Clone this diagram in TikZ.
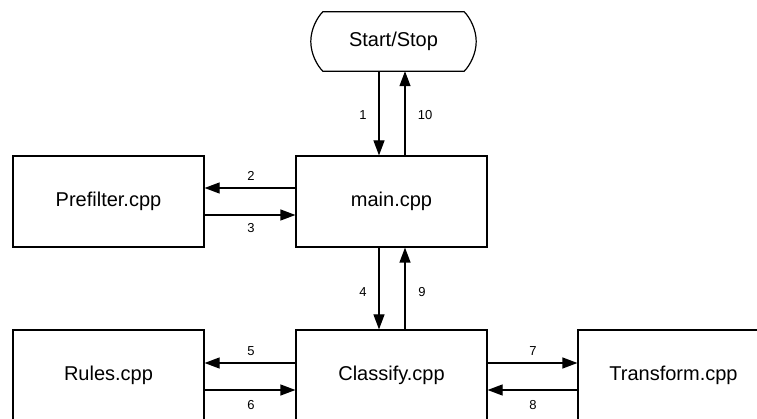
\documentclass[tikz,border=0pt]{standalone}
\usepackage{fontspec}
\setmainfont{Liberation Sans}
\usetikzlibrary{arrows.meta,calc}
\tikzset{
  module/.style={draw=black, line width=1.2pt, minimum width=191pt, minimum height=91pt,
    inner sep=0pt, font=\fontsize{20}{22}\selectfont},
  flow/.style={line width=1.2pt, -{Triangle[length=15pt,width=11pt]}},
  tag/.style={font=\fontsize{13}{15}\selectfont, inner sep=0pt},
}
\begin{document}
\begin{tikzpicture}[x=1pt,y=-1pt]
\useasboundingbox (0,0) rectangle (757,419);
\fill[white] (0,0) rectangle (757,419);
\clip (0,0) rectangle (757,419);

% terminal
\node[minimum width=165pt, minimum height=59pt, inner sep=0pt,
      font=\fontsize{20}{22}\selectfont] (start) at (393.5,41.5) {Start/Stop};
\draw[line width=1.2pt]
  ($(start.north west)+(12,0)$) -- ($(start.north east)+(-12,0)$)
  .. controls +(6,6) and +(0,-12) .. (start.east)
  .. controls +(0,12) and +(6,-6) .. ($(start.south east)+(-12,0)$)
  -- ($(start.south west)+(12,0)$)
  .. controls +(-6,-6) and +(0,12) .. (start.west)
  .. controls +(0,-12) and +(-6,6) .. ($(start.north west)+(12,0)$) -- cycle;

% modules
\node[module] (main) at (391.5,201.5) {main.cpp};
\node[module] (pre) at (108.5,201.5) {Prefilter.cpp};
\node[module] (cls) at (391.5,375.5) {Classify.cpp};
\node[module] (rules) at (108.5,375.5) {Rules.cpp};
\node[module] (trans) at (673.5,375.5) {Transform.cpp};

% lanes for the paired connectors
\coordinate (down) at ($(main.center)+(-12.5,0)$);
\coordinate (up) at ($(main.center)+(13.5,0)$);
\coordinate (lhi) at ($(main.center)+(0,-13.5)$);
\coordinate (llo) at ($(main.center)+(0,13.5)$);
\coordinate (bhi) at ($(cls.center)+(0,-12.5)$);
\coordinate (blo) at ($(cls.center)+(0,14.5)$);

% calls and returns
\draw[flow] (down |- start.south) -- (down |- main.north);
\draw[flow] (up |- main.north) -- (up |- start.south);
\draw[flow] (main.west |- lhi) -- (pre.east |- lhi);
\draw[flow] (pre.east |- llo) -- (main.west |- llo);
\draw[flow] (down |- main.south) -- (down |- cls.north);
\draw[flow] (up |- cls.north) -- (up |- main.south);
\draw[flow] (cls.west |- bhi) -- (rules.east |- bhi);
\draw[flow] (rules.east |- blo) -- (cls.west |- blo);
\draw[flow] (cls.east |- bhi) -- (trans.west |- bhi);
\draw[flow] (trans.west |- blo) -- (cls.east |- blo);

% step numbers
\node[tag] (n1) at (363,115) {1};
\node[tag] (n10) at (425,115) {10};
\node[tag] (n2) at (251,176) {2};
\node[tag] (n3) at (251,228) {3};
\node[tag] (n4) at (363,292) {4};
\node[tag] (n9) at (422,292) {9};
\node[tag] (n5) at (251,351) {5};
\node[tag] (n6) at (251,405) {6};
\node[tag] (n7) at (533,351) {7};
\node[tag] (n8) at (533,405) {8};
\end{tikzpicture}
\end{document}
